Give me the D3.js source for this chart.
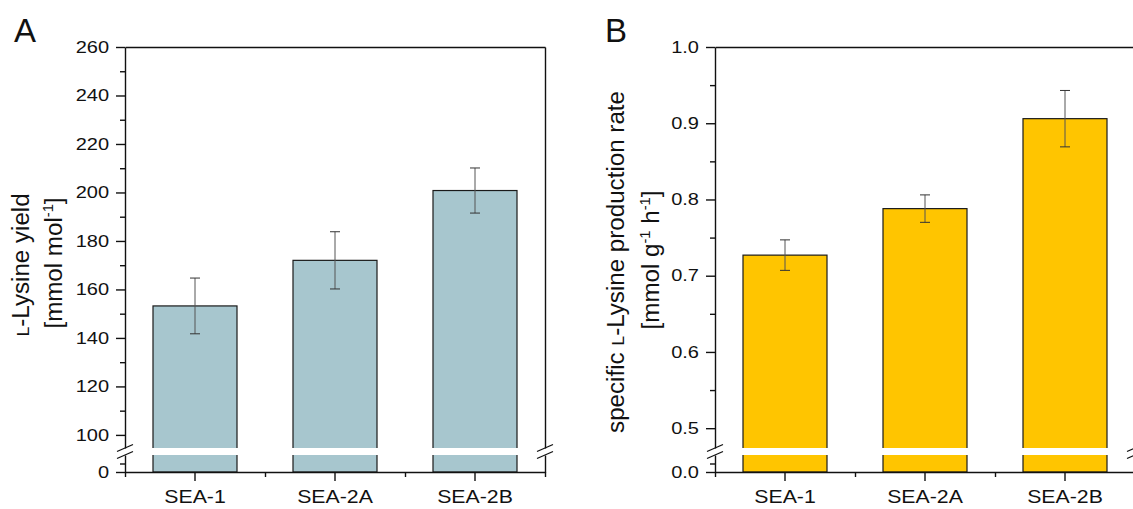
<!DOCTYPE html>
<html>
<head>
<meta charset="utf-8">
<script src="https://cdn.jsdelivr.net/npm/d3@7"></script>
<style>
    body { margin: 0; background: #fff; }
    text { font-family: "Liberation Sans", Arial, sans-serif; fill: #111; }
</style>
</head>
<body>
<svg id="chart" width="1133" height="509"></svg>
<script>
const categories = ["SEA-1", "SEA-2A", "SEA-2B"];

// panel A: L-lysine yield [mmol mol-1]
const yieldValues = [153.2, 172.0, 200.8];
const yieldErrors = [11.5, 11.8, 9.3];
const yieldTicks = [100, 120, 140, 160, 180, 200, 220, 240, 260];
const yieldMinorTicks = [110, 130, 150, 170, 190, 210, 230, 250];
const yieldLowTicks = [0];

// panel B: specific L-lysine production rate [mmol g-1 h-1]
const rateValues = [0.727, 0.788, 0.906];
const rateErrors = [0.020, 0.018, 0.037];
const rateTicks = [0.5, 0.6, 0.7, 0.8, 0.9, 1.0];
const rateMinorTicks = [0.55, 0.65, 0.75, 0.85, 0.95];
const rateLowTicks = [0];

class brokenBarPanel {
    constructor(svg, pos, size, opts) {
        this.svg = svg.append("g");
        this.pos = pos;
        this.size = size;
        this.opts = opts;
        this.gap = [448, 455];
    }

    styleAxis(sel, sx) {
        sel.attr("font-size", null).attr("font-family", null);
        sel.selectAll("path, line").attr("stroke", "#111").attr("stroke-width", 1.4);
        if (sx) {
            sel.selectAll("text").each(function() {
                let t = d3.select(this);
                let x0 = +t.attr("x") || 0;
                t.attr("x", x0 / sx).attr("transform", "scale(" + sx + ",1)");
            });
        }
    }

    titleLine(x, y, parts) {
        let t = this.svg.append("text")
            .attr("transform", "translate(" + x + "," + y + ") rotate(-90) scale(1.05,1)")
            .attr("text-anchor", "middle")
            .attr("font-size", 23);
        parts.forEach(p => {
            let s = t.append("tspan").text(p[0]);
            if (p[1] == "sc") s.attr("font-size", 17);
            if (p[1] == "sup") s.attr("font-size", 14).attr("dy", -9);
            if (p[1] == "back") s.attr("dy", 9);
        });
    }

    draw() {
        const o = this.opts;
        const left = this.pos[0], top = this.pos[1];
        const right = left + this.size[0], bottom = top + this.size[1];
        const g = this.svg;
        const gap = this.gap;

        let x = d3.scaleBand().domain(categories).range([left, right])
            .paddingInner(0.4).paddingOuter(0.2);
        let yUp = d3.scaleLinear().domain(o.upDomain).range([gap[0], top]);
        let yLow = d3.scaleLinear().domain(o.lowDomain).range([bottom, gap[1]]);

        g.selectAll(".bar").data(o.values).join("rect")
            .attr("class", "bar")
            .attr("x", (d, i) => x(categories[i]))
            .attr("y", d => yUp(d))
            .attr("width", x.bandwidth())
            .attr("height", d => yLow(0) - yUp(d))
            .attr("fill", o.color)
            .attr("stroke", "#1a1a1a")
            .attr("stroke-width", 1.2);

        // white band of the axis break
        g.append("rect")
            .attr("x", left - 2).attr("y", gap[0])
            .attr("width", right - left + 4).attr("height", gap[1] - gap[0])
            .attr("fill", "#fff");

        // error bars
        o.values.forEach((v, i) => {
            let cx = x(categories[i]) + x.bandwidth() / 2;
            let hi = yUp(v + o.errors[i]), lo = yUp(v - o.errors[i]);
            g.append("line").attr("x1", cx).attr("x2", cx).attr("y1", hi).attr("y2", lo)
                .attr("stroke", "#555").attr("stroke-width", 1);
            [hi, lo].forEach(yy => {
                g.append("line").attr("x1", cx - 5).attr("x2", cx + 5).attr("y1", yy).attr("y2", yy)
                    .attr("stroke", "#333").attr("stroke-width", 1);
            });
        });

        // left axis, upper and lower segment
        let up = g.append("g").attr("transform", "translate(" + left + ",0)")
            .call(d3.axisLeft(yUp).tickValues(o.ticks).tickFormat(o.fmt)
                .tickSize(9).tickPadding(7).tickSizeOuter(0));
        this.styleAxis(up, 1.25);
        up.attr("font-size", 16);
        let upMinor = g.append("g").attr("transform", "translate(" + left + ",0)")
            .call(d3.axisLeft(yUp).tickValues(o.minor).tickFormat("").tickSize(5));
        upMinor.select(".domain").remove();
        this.styleAxis(upMinor);

        let low = g.append("g").attr("transform", "translate(" + left + ",0)")
            .call(d3.axisLeft(yLow).tickValues(o.lowTicks).tickFormat(o.fmt)
                .tickSize(9).tickPadding(7).tickSizeOuter(0));
        this.styleAxis(low, 1.25);
        low.attr("font-size", 16);
        let lowMinor = g.append("g").attr("transform", "translate(" + left + ",0)")
            .call(d3.axisLeft(yLow).tickValues([(o.lowDomain[0] + o.lowDomain[1]) / 2]).tickFormat("").tickSize(5));
        lowMinor.select(".domain").remove();
        this.styleAxis(lowMinor);

        // right and top frame
        [yUp, yLow].forEach(s => {
            let r = g.append("g").attr("transform", "translate(" + right + ",0)")
                .call(d3.axisRight(s).tickValues([]).tickSizeOuter(0));
            this.styleAxis(r);
        });
        let tp = g.append("g").attr("transform", "translate(0," + top + ")")
            .call(d3.axisTop(x).tickValues([]).tickSizeOuter(0));
        this.styleAxis(tp);

        // bottom axis
        let bt = g.append("g").attr("transform", "translate(0," + bottom + ")")
            .call(d3.axisBottom(x).tickSize(9).tickPadding(9).tickSizeOuter(0));
        this.styleAxis(bt, 1.15);
        bt.attr("font-size", 18.5);
        let edges = d3.scaleLinear().domain([0, categories.length]).range([left, right]);
        let btMinor = g.append("g").attr("transform", "translate(0," + bottom + ")")
            .call(d3.axisBottom(edges).tickValues(d3.range(categories.length + 1)).tickFormat("").tickSize(5));
        btMinor.select(".domain").remove();
        this.styleAxis(btMinor);

        // break marks
        [left, right].forEach(ax => {
            gap.forEach(gy => {
                g.append("line")
                    .attr("x1", ax - 8).attr("y1", gy + 3.5)
                    .attr("x2", ax + 8).attr("y2", gy - 3.5)
                    .attr("stroke", "#111").attr("stroke-width", 1.3);
            });
        });

        // panel letter and titles
        g.append("text").attr("x", o.letterX).attr("y", 42)
            .attr("font-size", 33).text(o.letter);
        this.titleLine(o.titleX[0], o.titleY[0], o.title1);
        this.titleLine(o.titleX[1], o.titleY[1], o.title2);
    }
}

const svg = d3.select("#chart");

let panelA = new brokenBarPanel(svg, [125, 47], [420, 425], {
    values: yieldValues, errors: yieldErrors,
    ticks: yieldTicks, minor: yieldMinorTicks, lowTicks: yieldLowTicks,
    upDomain: [94.6, 260], lowDomain: [0, 20],
    fmt: d3.format("d"), color: "#a7c6ce",
    letter: "A", letterX: 14,
    titleX: [29, 62], titleY: [265, 263],
    title1: [["L", "sc"], ["-Lysine yield"]],
    title2: [["[mmol mol"], ["-1", "sup"], ["]", "back"]]
});
panelA.draw();

let panelB = new brokenBarPanel(svg, [715, 47], [420, 425], {
    values: rateValues, errors: rateErrors,
    ticks: rateTicks, minor: rateMinorTicks, lowTicks: rateLowTicks,
    upDomain: [0.474, 1.0], lowDomain: [0, 0.05],
    fmt: d3.format(".1f"), color: "#ffc500",
    letter: "B", letterX: 605,
    titleX: [624, 659], titleY: [262, 260],
    title1: [["specific "], ["L", "sc"], ["-Lysine production rate"]],
    title2: [["[mmol g"], ["-1", "sup"], [" h", "back"], ["-1", "sup"], ["]", "back"]]
});
panelB.draw();
</script>
</body>
</html>
